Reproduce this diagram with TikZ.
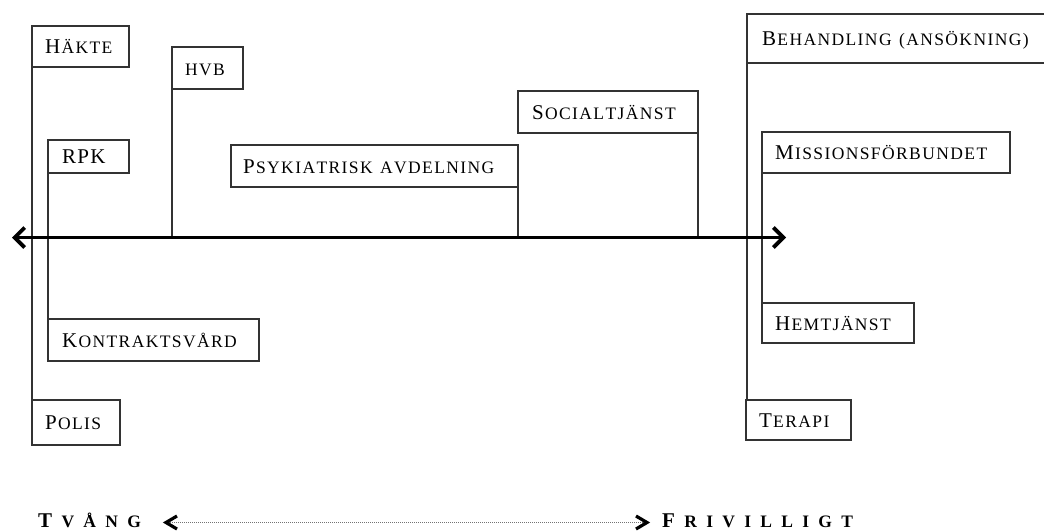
\documentclass[tikz,border=0pt]{standalone}
\usepackage{fontspec}
\setmainfont{Liberation Serif}
\usetikzlibrary{arrows.meta,calc}
\makeatletter
\newcommand\lsp[2]{\def\lsp@k{#1}\lsp@loop#2\relax}
\def\lsp@loop#1{\ifx\relax#1\else #1\kern\lsp@k\expandafter\lsp@loop\fi}
\makeatother
\newcommand\BL[1]{{\fontsize{21}{24}\selectfont\lsp{1.4pt}{#1}}}
\newcommand\SL[1]{{\fontsize{17.5}{20}\selectfont\lsp{1.4pt}{#1}}}
\newcommand\gap{\hspace{6pt}}
\newcommand\BBL[1]{{\fontsize{21}{24}\selectfont\bfseries\lsp{9.3pt}{#1}}}
\newcommand\SBL[1]{{\fontsize{17.5}{20}\selectfont\bfseries\lsp{9.3pt}{#1}}}
\tikzset{
  lbox/.style={draw=black!80, line width=1.3pt, rectangle, anchor=north west,
    outer sep=0pt, inner xsep=13pt, inner ysep=0pt, align=left,
    text height=14pt, text depth=0pt},
  conn/.style={draw=black!80, line width=1.3pt},
  mainarrow/.style={line width=3.8pt, {Straight Barb[length=10pt,width=20pt]}-{Straight Barb[length=10pt,width=20pt]}},
  scale line/.style={draw=black!55, line width=0.9pt, dash pattern=on 1pt off 1pt},
  chevron/.style={draw=black, line width=3.2pt, line join=miter, line cap=butt},
  endlabel/.style={anchor=base west, inner sep=0pt, text height=18pt, text depth=0pt}
}
\begin{document}
\begin{tikzpicture}[x=1pt,y=-1pt]
\useasboundingbox (0,0) rectangle (1044,531);
\clip (0,0) rectangle (1044,531);
% boxes
\node[lbox, text width=71pt, minimum height=41pt] (hakte) at (32,26) {\BL{H}\SL{ÄKTE}};
\node[lbox, text width=45pt, minimum height=42pt] (hvb) at (172,47) {\SL{HVB}};
\node[lbox, text width=53pt, minimum height=33pt, inner xsep=14pt] (rpk) at (48,140) {\BL{RPK}};
\node[lbox, text width=263pt, minimum height=42pt, inner xsep=12pt] (psyk) at (231,145) {\BL{P}\SL{SYKIATRISK}\gap\SL{AVDELNING}};
\node[lbox, text width=183pt, minimum height=42pt, inner xsep=14pt] (kontr) at (48,319) {\BL{K}\SL{ONTRAKTSVÅRD}};
\node[lbox, text width=62pt, minimum height=45pt] (polis) at (32,400) {\BL{P}\SL{OLIS}};
\node[lbox, text width=152pt, minimum height=42pt, inner xsep=14pt] (social) at (518,91) {\BL{S}\SL{OCIALTJÄNST}};
\node[lbox, text width=280pt, minimum height=49pt, inner xsep=15pt] (behand) at (747,14) {\BL{B}\SL{EHANDLING}\gap\SL{(ANSÖKNING)}};
\node[lbox, text width=222pt, minimum height=41pt] (mission) at (762,132) {\BL{M}\SL{ISSIONSFÖRBUNDET}};
\node[lbox, text width=126pt, minimum height=40pt] (hemtj) at (762,303) {\BL{H}\SL{EMTJÄNST}};
\node[lbox, text width=79pt, minimum height=40pt] (terapi) at (746,400) {\BL{T}\SL{ERAPI}};
% main axis
\coordinate (L) at (12,237.5);
\coordinate (R) at (786,237.5);
% connectors
\draw[conn] (hakte.south west) -- (hakte.south west |- polis.north);
\draw[conn] (rpk.south west) -- (rpk.south west |- kontr.north);
\draw[conn] (hvb.south west) -- (hvb.south west |- L);
\draw[conn] (psyk.south east) -- (psyk.south east |- L);
\draw[conn] (social.south east) -- (social.south east |- L);
\draw[conn] (behand.south west) -- (behand.south west |- terapi.north);
\draw[conn] (mission.south west) -- (mission.south west |- hemtj.north);
\draw[mainarrow] (L) -- (R);
% bottom scale
\node[endlabel] (tvang) at (38,527.5) {\BBL{T}\SBL{VÅNG}};
\node[endlabel] (friv) at (662,527.5) {\BBL{F}\SBL{RIVILLIGT}};
\coordinate (bl) at (166,522.5);
\coordinate (br) at (647,522.5);
\draw[scale line] (bl) -- (br);
\draw[chevron] ($(bl)+(11,-6.5)$) -- (bl) -- ($(bl)+(11,6.5)$);
\draw[chevron] ($(br)+(-11,-6.5)$) -- (br) -- ($(br)+(-11,6.5)$);
\end{tikzpicture}
\end{document}
